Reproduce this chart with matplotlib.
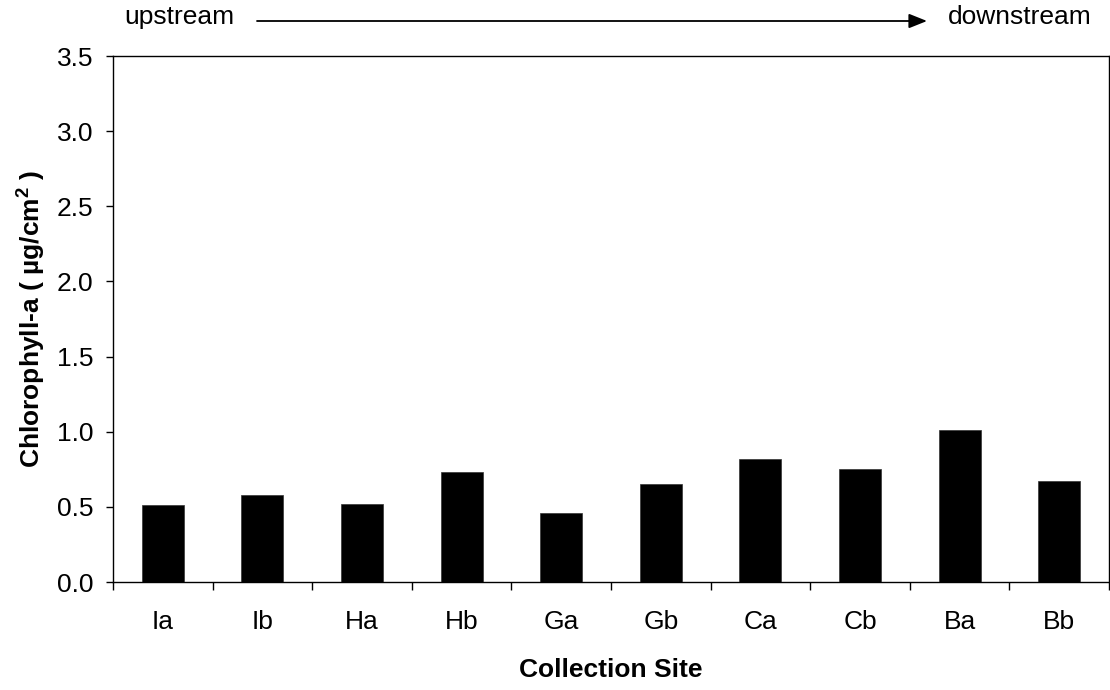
import numpy as np
import matplotlib
matplotlib.use("Agg")
import matplotlib.pyplot as plt

plt.rcParams['font.family'] = ['Liberation Sans', 'DejaVu Sans']
plt.rcParams['mathtext.fontset'] = 'custom'
plt.rcParams['mathtext.rm'] = 'Liberation Sans'
plt.rcParams['mathtext.bf'] = 'Liberation Sans:bold'

# --- data ---
sites = ['Ia', 'Ib', 'Ha', 'Hb', 'Ga', 'Gb', 'Ca', 'Cb', 'Ba', 'Bb']
chl_a = [0.51, 0.58, 0.52, 0.73, 0.46, 0.65, 0.82, 0.75, 1.01, 0.67]
y_ticks = [0.0, 0.5, 1.0, 1.5, 2.0, 2.5, 3.0, 3.5]

FS = 19

fig = plt.figure(figsize=(11.1, 6.9), dpi=100)
ax = fig.add_axes([113 / 1110, 108 / 690, 996 / 1110, 526 / 690])

x = np.arange(len(sites))
ax.bar(x, chl_a, width=0.42, color='black', edgecolor='#333333', linewidth=0.5, zorder=3)

ax.set_xlim(-0.5, len(sites) - 0.5)
ax.set_ylim(0, 3.5)
ax.set_yticks(y_ticks)
ax.set_yticklabels([f"{v:.1f}" for v in y_ticks], fontsize=FS)

# ticks at category boundaries, labels at centers
ax.set_xticks(np.arange(len(sites) + 1) - 0.5)
ax.set_xticklabels([])
ax.set_xticks(x, minor=True)
ax.set_xticklabels(sites, minor=True, fontsize=FS)
ax.tick_params(axis='x', which='major', direction='out', length=6, width=1)
ax.tick_params(axis='x', which='minor', length=0, pad=20)
ax.tick_params(axis='y', direction='out', length=5, width=1, pad=9)

for s in ax.spines.values():
    s.set_linewidth(1.0)

ax.set_xlabel('Collection Site', fontsize=FS, fontweight='bold')
ax.xaxis.set_label_coords(0.5, -0.167)
ax.xaxis.label.set_va('center')
ax.set_ylabel('Chlorophyll-a ( µg/cm$^\\mathbf{2}$ )', fontsize=FS, fontweight='bold')
ax.yaxis.set_label_coords(-0.083, 0.5)
ax.yaxis.label.set_va('center')

# upstream -> downstream annotation
fig.text(124 / 1110, 1 - 17 / 690, 'upstream', fontsize=FS, va='center', ha='left')
fig.text(948 / 1110, 1 - 17 / 690, 'downstream', fontsize=FS, va='center', ha='left')
fig.patches.append(matplotlib.patches.FancyArrowPatch(
    (257 / 1110, 1 - 21 / 690), (927 / 1110, 1 - 21 / 690),
    transform=fig.transFigure, arrowstyle='-|>,head_length=0.55,head_width=0.22',
    mutation_scale=20, color='black', linewidth=1.3, shrinkA=0, shrinkB=0))

fig.savefig('out.png', dpi=100)
